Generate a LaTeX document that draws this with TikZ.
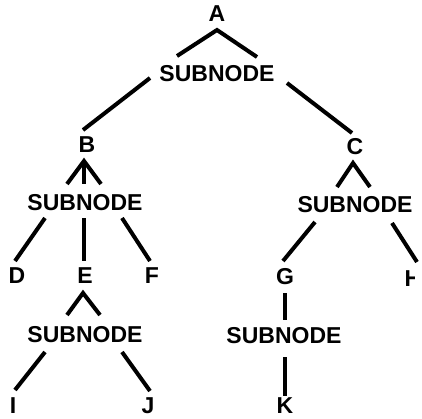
\documentclass[tikz,border=0pt]{standalone}
\usepackage{fontspec}
\setmainfont{Liberation Sans}
\begin{document}
\begin{tikzpicture}[x=1pt,y=-1pt,
  lbl/.style={font=\fontsize{23}{23}\selectfont\bfseries, inner sep=0pt, anchor=center},
  edge/.style={line width=4pt, line cap=butt, line join=miter},
  stem/.style={line width=3.2pt, line cap=butt}]
\useasboundingbox (0,0) rectangle (422,418);

% labels and subnodes
\node[lbl] (A)  at (217,14)  {A};
\node[lbl] (S1) at (217,73.5) {SUBNODE};
\node[lbl] (B)  at (87,145)  {B};
\node[lbl] (C)  at (355,147) {C};
\node[lbl] (S2) at (85,203)  {SUBNODE};
\node[lbl] (S3) at (355,205) {SUBNODE};
\node[lbl] (D)  at (17,276)  {D};
\node[lbl] (E)  at (85,276)  {E};
\node[lbl] (F)  at (152,276) {F};
\node[lbl] (G)  at (285,277) {G};
\begin{scope}
  \clip (0,0) rectangle (414,418);
  \node[lbl] (H) at (413,279) {H};
\end{scope}
\node[lbl] (S4) at (85,335)  {SUBNODE};
\node[lbl] (S5) at (284,336) {SUBNODE};
\node[lbl] (I)  at (13,405.5) {I};
\node[lbl] (J)  at (148,405.5) {J};
\node[lbl] (K)  at (285,405.5) {K};

% end points of the connectors
\coordinate (Aapex) at (217,30);
\coordinate (Al) at (177,56);
\coordinate (Ar) at (257,57);
\coordinate (S1b) at (150,78);
\coordinate (Bt) at (83,130);
\coordinate (S1c) at (287,83);
\coordinate (Ct) at (352,133);
\coordinate (Bapex) at (84,161);
\coordinate (Bl) at (67,184);
\coordinate (Bm) at (84,184);
\coordinate (Br) at (101,184);
\coordinate (S2l) at (45,218);
\coordinate (Dt) at (15,261);
\coordinate (S2m) at (84,218);
\coordinate (Et) at (84,261);
\coordinate (S2r) at (122,218);
\coordinate (Ft) at (150,261);
\coordinate (Capex) at (353,163);
\coordinate (Cl) at (337,187);
\coordinate (Cr) at (370,187);
\coordinate (S3l) at (315,222);
\coordinate (Gt) at (283,261);
\coordinate (S3r) at (392,223);
\coordinate (Ht) at (417,262);
\coordinate (Eapex) at (83,293);
\coordinate (El) at (67,315);
\coordinate (Er) at (100,315);
\coordinate (S4l) at (45,352);
\coordinate (It) at (15,390);
\coordinate (S4r) at (122,352);
\coordinate (Jt) at (150,391);
\coordinate (Gb) at (285,293);
\coordinate (S5t) at (285,320);
\coordinate (S5b) at (285,357);
\coordinate (Kt) at (285,396);

% connectors
\draw[edge] (Al) -- (Aapex) -- (Ar);
\draw[edge] (S1b) -- (Bt);
\draw[edge] (S1c) -- (Ct);
\draw[edge] (Bl) -- (Bapex) -- (Br);
\draw[stem] (Bapex) -- (Bm);
\draw[edge] (S2l) -- (Dt);
\draw[stem] (S2m) -- (Et);
\draw[edge] (S2r) -- (Ft);
\draw[edge] (Cl) -- (Capex) -- (Cr);
\draw[edge] (S3l) -- (Gt);
\draw[edge] (S3r) -- (Ht);
\draw[edge] (El) -- (Eapex) -- (Er);
\draw[edge] (S4l) -- (It);
\draw[edge] (S4r) -- (Jt);
\draw[stem] (Gb) -- (S5t);
\draw[stem] (S5b) -- (Kt);
\end{tikzpicture}
\end{document}
